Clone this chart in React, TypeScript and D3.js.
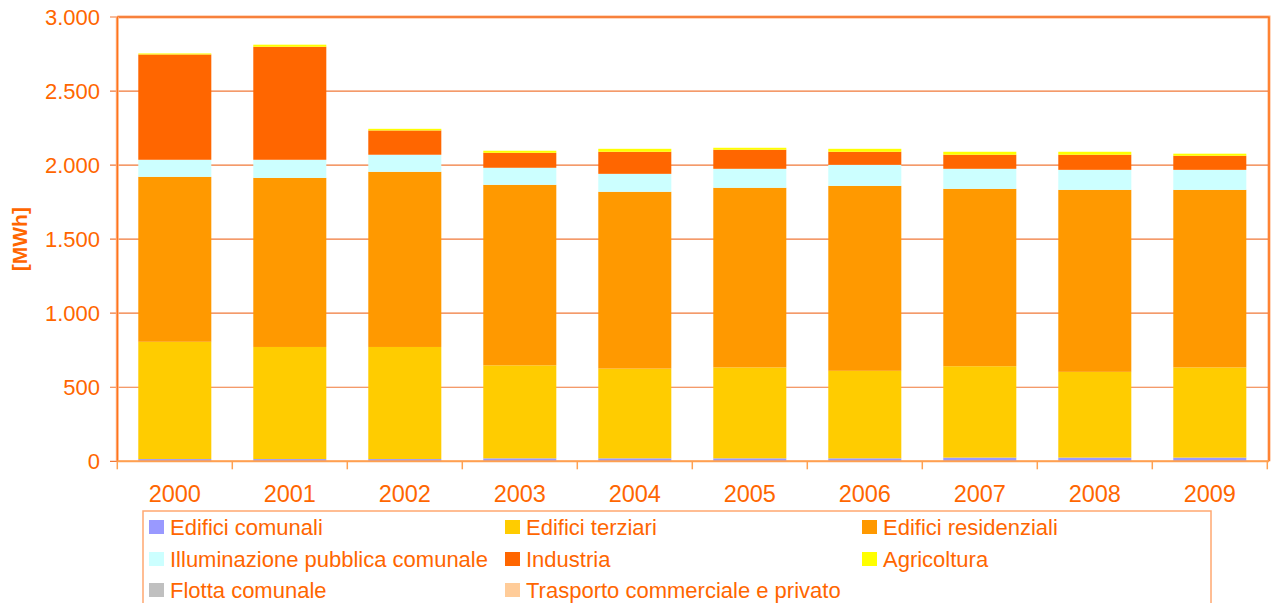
import React, { useEffect, useRef } from 'react';
import * as d3 from 'd3';

const years = ['2000', '2001', '2002', '2003', '2004', '2005', '2006', '2007', '2008', '2009'];

const seriesNames = [
  'Edifici comunali',
  'Edifici terziari',
  'Edifici residenziali',
  'Illuminazione pubblica comunale',
  'Industria',
  'Agricoltura',
  'Flotta comunale',
  'Trasporto commerciale e privato'
];

const seriesColors = ['#9999FF', '#FFCC00', '#FF9900', '#CCFFFF', '#FF6600', '#FFFF00', '#C0C0C0', '#FFCC99'];

// values in MWh, one array per series, in year order
const edificiComunali = [15, 15, 15, 20, 20, 20, 20, 25, 25, 25];
const edificiTerziari = [792, 757, 757, 628, 606, 614, 591, 617, 579, 609];
const edificiResidenziali = [1114, 1142, 1183, 1219, 1194, 1213, 1249, 1198, 1229, 1199];
const illuminazione = [115, 122, 115, 115, 121, 128, 142, 135, 135, 135];
const industria = [711, 763, 164, 101, 149, 129, 88, 95, 102, 95];
const agricoltura = [7, 14, 11, 14, 20, 13, 20, 20, 20, 14];
const flotta = [0, 0, 0, 0, 0, 0, 0, 0, 0, 0];
const trasporto = [0, 0, 0, 0, 0, 0, 0, 0, 0, 0];

const seriesValues = [edificiComunali, edificiTerziari, edificiResidenziali, illuminazione, industria, agricoltura, flotta, trasporto];

const yTicks = [0, 500, 1000, 1500, 2000, 2500, 3000];

const W = 1272;
const H = 603;
const ORANGE = '#FF6600';
const FONT = '"Liberation Sans", Arial, sans-serif';

export default function App() {
  const svgRef = useRef<SVGSVGElement>(null);

  useEffect(() => {
    if (!svgRef.current) return;
    const svg = d3.select(svgRef.current);
    svg.selectAll('*').remove();

    const plot = { left: 117.3, right: 1268, top: 17, bottom: 461.3 };

    const x = d3.scaleBand<string>()
      .domain(years)
      .range([plot.left, plot.left + 115 * years.length])
      .paddingInner(0.365)
      .paddingOuter(0.1825);

    const y = d3.scaleLinear().domain([0, 3000]).range([plot.bottom, plot.top]);

    const rows = years.map((yr, i) => {
      const r: Record<string, any> = { year: yr };
      seriesNames.forEach((s, j) => { r[s] = seriesValues[j][i]; });
      return r;
    });
    const stacked = d3.stack<any>().keys(seriesNames)(rows);
    const color = d3.scaleOrdinal<string, string>().domain(seriesNames).range(seriesColors);

    // frame top/right
    svg.append('path')
      .attr('d', `M${plot.left},${plot.top} H${plot.right + 1} V${plot.bottom}`)
      .attr('fill', 'none')
      .attr('stroke', '#FFB080')
      .attr('stroke-width', 3);
    svg.append('path')
      .attr('d', `M${plot.left},${plot.top} H${plot.right + 1} V${plot.bottom}`)
      .attr('fill', 'none')
      .attr('stroke', ORANGE)
      .attr('stroke-width', 1.2);

    // gridlines + y ticks
    const grid = svg.append('g');
    yTicks.forEach(t => {
      grid.append('line')
        .attr('x1', 110).attr('x2', plot.right)
        .attr('y1', y(t)).attr('y2', y(t))
        .attr('stroke', '#F07838')
        .attr('stroke-width', 1.2);
      grid.append('text')
        .attr('x', 100)
        .attr('y', y(t))
        .attr('dy', '0.36em')
        .attr('text-anchor', 'end')
        .style('font-family', FONT)
        .style('font-size', '22px')
        .attr('fill', ORANGE)
        .text(d3.format(',')(t).replace(/,/g, '.'));
    });

    // left axis line (double)
    svg.append('line')
      .attr('x1', plot.left).attr('x2', plot.left)
      .attr('y1', plot.top).attr('y2', plot.bottom)
      .attr('stroke', '#FFB080').attr('stroke-width', 3);
    svg.append('line')
      .attr('x1', plot.left).attr('x2', plot.left)
      .attr('y1', plot.top).attr('y2', plot.bottom)
      .attr('stroke', ORANGE).attr('stroke-width', 1);

    // bars
    svg.append('g')
      .selectAll('g')
      .data(stacked)
      .enter()
      .append('g')
      .attr('fill', d => color(d.key))
      .selectAll('rect')
      .data(d => d)
      .enter()
      .append('rect')
      .attr('x', d => x(d.data.year)!)
      .attr('width', x.bandwidth())
      .attr('y', d => y(d[1]))
      .attr('height', d => y(d[0]) - y(d[1]));

    // x axis
    svg.append('line')
      .attr('x1', plot.left).attr('x2', plot.right + 1)
      .attr('y1', plot.bottom).attr('y2', plot.bottom)
      .attr('stroke', '#FFA050').attr('stroke-width', 2);
    d3.range(years.length + 1).forEach(i => {
      const tx = plot.left + 115 * i;
      svg.append('line')
        .attr('x1', tx).attr('x2', tx)
        .attr('y1', plot.bottom).attr('y2', plot.bottom + 8)
        .attr('stroke', '#FFA050').attr('stroke-width', 1.5);
    });
    years.forEach(yr => {
      svg.append('text')
        .attr('x', x(yr)! + x.bandwidth() / 2)
        .attr('y', 502)
        .attr('text-anchor', 'middle')
        .style('font-family', FONT)
        .style('font-size', '23.5px')
        .attr('fill', ORANGE)
        .text(yr);
    });

    // y title
    svg.append('text')
      .attr('transform', `translate(27,${(plot.top + plot.bottom) / 2}) rotate(-90)`)
      .attr('text-anchor', 'middle')
      .style('font-family', FONT)
      .style('font-size', '21px')
      .style('font-weight', 'bold')
      .attr('fill', ORANGE)
      .text('[MWh]');

    // legend
    svg.append('rect')
      .attr('x', 143).attr('y', 511)
      .attr('width', 1068).attr('height', 110)
      .attr('fill', 'white')
      .attr('stroke', '#FFA870')
      .attr('stroke-width', 1.5);
    const colX = [149, 505, 862];
    const rowY = [527, 559, 590];
    seriesNames.forEach((s, i) => {
      const cx = colX[i % 3];
      const cy = rowY[Math.floor(i / 3)];
      svg.append('rect')
        .attr('x', cx).attr('y', cy - 7)
        .attr('width', 15).attr('height', 14)
        .attr('fill', color(s));
      svg.append('text')
        .attr('x', cx + 21)
        .attr('y', cy)
        .attr('dy', '0.36em')
        .style('font-family', FONT)
        .style('font-size', '22px')
        .attr('fill', ORANGE)
        .text(s);
    });
  }, []);

  return (
    <svg
      ref={svgRef}
      width={W}
      height={H}
      style={{ position: 'absolute', left: 0, top: 0, background: 'white' }}
    />
  );
}
